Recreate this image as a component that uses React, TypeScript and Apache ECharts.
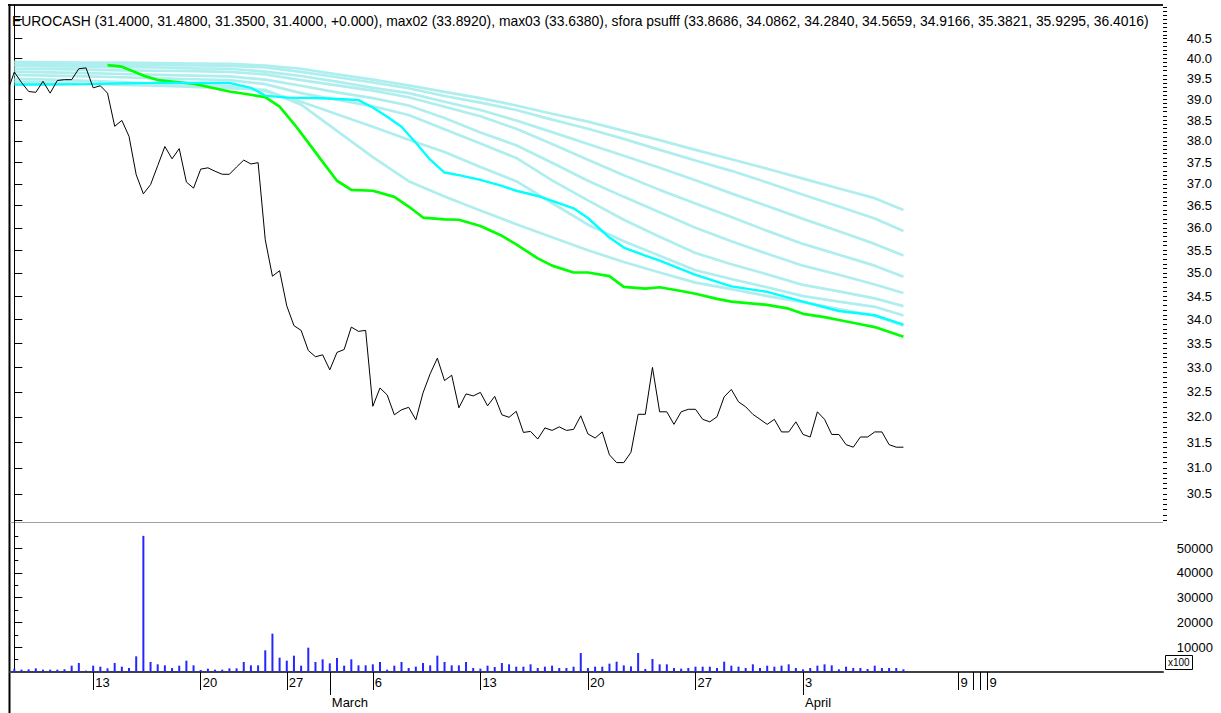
import React, { useEffect, useRef } from "react";
import * as echarts from "echarts";

const titleText =
  "EUROCASH (31.4000, 31.4800, 31.3500, 31.4000, +0.000), max02 (33.8920), max03 (33.6380), sfora psufff (33.8686, 34.0862, 34.2840, 34.5659, 34.9166, 35.3821, 35.9295, 36.4016)";

// closes; first entry is the partly visible point just left of the first bar (index -1)
const priceFirstIndex = -1;
const price = [
  39.16, 39.67, 39.41, 39.19, 39.17, 39.44, 39.15, 39.46, 39.48, 39.48, 39.75,
  39.77, 39.28, 39.33, 39.15, 38.35, 38.49, 38.11, 37.21, 36.77, 36.98,
  37.42, 37.87, 37.58, 37.82, 37.04, 36.9, 37.34, 37.37, 37.29, 37.22,
  37.22, 37.39, 37.55, 37.46, 37.49, 35.73, 34.93, 35.05, 34.29, 33.87,
  33.77, 33.35, 33.22, 33.26, 32.95, 33.31, 33.37, 33.84, 33.75, 33.77,
  32.21, 32.58, 32.44, 32.04, 32.14, 32.19, 31.94, 32.48, 32.87, 33.19,
  32.73, 32.84, 32.18, 32.46, 32.42, 32.49, 32.22, 32.41, 32.04, 31.99,
  32.11, 31.69, 31.71, 31.56, 31.78, 31.73, 31.8, 31.73, 31.75, 32.02,
  31.66, 31.58, 31.7, 31.25, 31.1, 31.1, 31.3, 32.05, 32.05, 33.0,
  32.1, 32.1, 31.85, 32.1, 32.15, 32.15, 31.95, 31.9, 32.0, 32.4,
  32.55, 32.3, 32.2, 32.05, 31.95, 31.85, 31.95, 31.7, 31.7, 31.9,
  31.65, 31.6, 32.1, 31.95, 31.65, 31.65, 31.45, 31.4, 31.6, 31.6,
  31.7, 31.7, 31.45, 31.4, 31.4,
];

// volume (in units of 100), index 0..124
const volume = [
  1350, 940, 1080, 1480, 940, 940, 940, 1080, 2560, 3640, 540, 2560, 2150,
  1480, 3640, 2150, 1620, 6330, 55000, 4040, 3100, 2690, 1620, 2560, 4580,
  2690, 810, 1350, 940, 940, 1480, 1480, 4040, 2690, 2690, 8750, 15490,
  5790, 4580, 6600, 2560, 9830, 4040, 5120, 3500, 5660, 2560, 5120, 2690,
  2690, 3100, 4040, 940, 2560, 4040, 1620, 2150, 3640, 2690, 6600, 4040,
  2690, 2690, 4040, 1620, 1350, 2560, 2020, 3640, 3100, 2150, 2150, 3100,
  1620, 2150, 2560, 1620, 1620, 2150, 7680, 1620, 2150, 2150, 3370, 4180,
  2690, 2290, 7680, 1210, 5250, 3100, 3100, 1620, 1350, 1620, 2150, 2150,
  2150, 1620, 4180, 2560, 2150, 1620, 3100, 1620, 2560, 2150, 2560, 3100,
  1620, 1080, 1620, 2560, 3100, 2690, 1080, 2150, 1620, 1620, 1210, 2560,
  1620, 1620, 1620, 1080,
];

// max03 (green), sampled at these bar indices
const max03Index = [13, 15, 18, 20, 25, 30, 33, 35, 37, 39, 41, 43, 45, 47, 50, 53, 55, 57, 60, 62, 65, 68, 70, 73, 75, 78, 80, 83, 85, 88, 90, 93, 95, 98, 100, 105, 108, 110, 113, 115, 118, 120, 124];
const max03 = [39.84, 39.8, 39.58, 39.47, 39.38, 39.19, 39.11, 39.05, 38.82, 38.41, 37.96, 37.51, 37.07, 36.86, 36.84, 36.7, 36.48, 36.23, 36.19, 36.18, 36.04, 35.82, 35.63, 35.32, 35.16, 35.01, 35.01, 34.93, 34.7, 34.66, 34.69, 34.61, 34.55, 34.44, 34.38, 34.31, 34.23, 34.12, 34.05, 33.99, 33.9, 33.84, 33.638];

// max02 (cyan)
const max02Index = [0, 5, 10, 15, 20, 25, 30, 33, 35, 38, 42, 46, 48, 50, 52, 54, 56, 58, 60, 62, 65, 68, 70, 73, 75, 78, 80, 83, 85, 88, 90, 95, 100, 105, 110, 115, 120, 124];
const max02 = [39.36, 39.36, 39.37, 39.39, 39.4, 39.4, 39.4, 39.28, 39.09, 39.04, 39.03, 39.0, 38.98, 38.8, 38.58, 38.34, 37.96, 37.56, 37.26, 37.2, 37.09, 36.95, 36.84, 36.72, 36.61, 36.44, 36.22, 35.78, 35.56, 35.38, 35.27, 34.96, 34.71, 34.59, 34.38, 34.18, 34.09, 33.892];

// sfora psufff ribbon (8 lines), sampled at these bar indices
const sforaIndex = [0, 5, 10, 15, 20, 25, 30, 35, 40, 45, 50, 55, 60, 65, 70, 75, 80, 85, 90, 95, 100, 105, 110, 115, 120, 124];
const sfora1 = [39.92, 39.91, 39.9, 39.9, 39.89, 39.88, 39.87, 39.83, 39.75, 39.61, 39.48, 39.34, 39.18, 39.03, 38.85, 38.65, 38.46, 38.24, 38.02, 37.79, 37.57, 37.35, 37.12, 36.89, 36.67, 36.4016];
const sfora2 = [39.87, 39.86, 39.85, 39.84, 39.84, 39.83, 39.82, 39.78, 39.67, 39.54, 39.41, 39.27, 39.08, 38.92, 38.74, 38.51, 38.29, 38.05, 37.79, 37.54, 37.3, 37.03, 36.75, 36.48, 36.21, 35.9295];
const sfora3 = [39.82, 39.81, 39.8, 39.79, 39.78, 39.76, 39.75, 39.68, 39.57, 39.43, 39.28, 39.15, 38.94, 38.74, 38.49, 38.21, 37.93, 37.65, 37.37, 37.08, 36.78, 36.49, 36.2, 35.92, 35.64, 35.3821];
const sfora4 = [39.75, 39.74, 39.73, 39.71, 39.7, 39.69, 39.67, 39.61, 39.47, 39.34, 39.21, 39.05, 38.82, 38.59, 38.29, 37.93, 37.56, 37.2, 36.86, 36.55, 36.24, 35.93, 35.64, 35.4, 35.16, 34.9166];
const sfora5 = [39.68, 39.66, 39.64, 39.62, 39.6, 39.58, 39.56, 39.48, 39.33, 39.17, 39.03, 38.85, 38.55, 38.2, 37.9, 37.49, 37.07, 36.7, 36.35, 36.0, 35.7, 35.42, 35.16, 34.96, 34.75, 34.5659];
const sfora6 = [39.6, 39.58, 39.56, 39.54, 39.51, 39.49, 39.47, 39.37, 39.15, 38.99, 38.83, 38.62, 38.28, 37.94, 37.6, 37.08, 36.62, 36.18, 35.8, 35.44, 35.19, 34.97, 34.74, 34.6, 34.45, 34.284];
const sfora7 = [39.5, 39.48, 39.45, 39.42, 39.38, 39.36, 39.33, 39.2, 38.94, 38.64, 38.34, 38.03, 37.74, 37.39, 37.06, 36.56, 36.07, 35.7, 35.38, 35.06, 34.87, 34.69, 34.5, 34.38, 34.27, 34.0862];
const sfora8 = [39.43, 39.41, 39.38, 39.35, 39.33, 39.3, 39.27, 39.23, 38.87, 38.24, 37.62, 37.06, 36.71, 36.39, 36.08, 35.79, 35.5, 35.24, 35.01, 34.79, 34.65, 34.5, 34.37, 34.22, 34.08, 33.8686];
const sforaLines = [sfora1, sfora2, sfora3, sfora4, sfora5, sfora6, sfora7, sfora8];

// axis ticks
const priceLabelValues = [30.5, 31, 31.5, 32, 32.5, 33, 33.5, 34, 34.5, 35, 35.5, 36, 36.5, 37, 37.5, 38, 38.5, 39, 39.5, 40, 40.5];
const priceMajorTicks = [30, ...priceLabelValues, 41];
const priceMinorTicks: number[] = [];
for (let k = 300; k <= 413; k++) priceMinorTicks.push(k / 10);
const volumeLabelValues = [10000, 20000, 30000, 40000, 50000];
const volumeMinorTicks = [5000, 15000, 25000, 35000, 45000, 55000];
const dayTickIndex = [11, 26, 38, 50, 65, 80, 95, 110, 131.67, 133.78, 134.72, 135.71];
const dayTickLabels = ["13", "20", "27", "6", "13", "20", "27", "3", "9", "", "", "9"];
const monthTickIndex = [44, 110];
const monthTickLabels = ["March", "April"];

const X_MIN = -0.6;
const X_MAX = 160.2;
const P_MIN = 29.97;
const P_MAX = 41.36;
const V_MAX = 60600;

const FONT = "'Liberation Sans', Arial, sans-serif";
const L = Math.log;

function buildOption(): echarts.EChartsOption {
  const gridPrice = { left: 10, top: 5, width: 1153, height: 517 };
  const gridVol = { left: 10, top: 522, width: 1153, height: 150 };

  const lineBase = {
    type: "line" as const,
    xAxisIndex: 0,
    yAxisIndex: 0,
    symbol: "none",
    silent: true,
    clip: true,
  };

  const maSeries = (idx: number[], vals: number[], color: string, width: number, z: number) => ({
    ...lineBase,
    data: vals.map((v, k) => [idx[k], L(v)]),
    lineStyle: { color, width },
    z,
  });

  const series: any[] = [];
  sforaLines.forEach((s) => series.push(maSeries(sforaIndex, s, "#afeeee", 2.7, 2)));
  series.push(maSeries(max03Index, max03, "#00ff00", 2.7, 3));
  series.push(maSeries(max02Index, max02, "#00ffff", 2.4, 4));
  series.push({
    ...lineBase,
    data: price.map((v, k) => [k + priceFirstIndex, L(v)]),
    lineStyle: { color: "#000000", width: 1 },
    z: 5,
  });
  series.push({
    type: "bar",
    xAxisIndex: 1,
    yAxisIndex: 2,
    data: volume.map((v, i) => [i, v]),
    barWidth: 2,
    itemStyle: { color: "#2626ff" },
    silent: true,
  });

  const labelOf = (pos: number[], labels: string[]) => (v: number) => {
    let best = 0;
    for (let k = 0; k < pos.length; k++) if (Math.abs(pos[k] - v) < Math.abs(pos[best] - v)) best = k;
    return labels[best];
  };

  return {
    animation: false,
    backgroundColor: "#ffffff",
    grid: [gridPrice, gridVol],
    xAxis: [
      { gridIndex: 0, type: "value", min: X_MIN, max: X_MAX, show: false },
      {
        gridIndex: 1,
        type: "value",
        min: X_MIN,
        max: X_MAX,
        position: "bottom",
        axisLine: { show: true, lineStyle: { color: "#a0a0a0", width: 1 } },
        axisTick: { show: true, customValues: dayTickIndex, length: 18, lineStyle: { color: "#000", width: 1 } },
        axisLabel: {
          show: true,
          customValues: dayTickIndex,
          formatter: labelOf(dayTickIndex, dayTickLabels) as any,
          align: "left",
          margin: 4,
          padding: [0, 0, 0, 2],
          color: "#000",
          fontSize: 13,
          fontFamily: FONT,
        },
        splitLine: { show: false },
      },
      {
        gridIndex: 1,
        type: "value",
        min: X_MIN,
        max: X_MAX,
        position: "bottom",
        offset: 18,
        axisLine: { show: true, lineStyle: { color: "#404040", width: 2 } },
        axisTick: { show: true, customValues: monthTickIndex, length: 23, lineStyle: { color: "#000", width: 1 } },
        axisLabel: {
          show: true,
          customValues: monthTickIndex,
          formatter: labelOf(monthTickIndex, monthTickLabels) as any,
          align: "left",
          margin: 6,
          padding: [0, 0, 0, 2],
          color: "#000",
          fontSize: 13,
          fontFamily: FONT,
        },
        splitLine: { show: false },
      },
    ],
    yAxis: [
      {
        gridIndex: 0,
        type: "value",
        position: "right",
        min: L(P_MIN),
        max: L(P_MAX),
        axisLine: { show: true, lineStyle: { color: "#000", width: 1 } },
        axisTick: { show: true, customValues: priceMajorTicks.map(L), length: 8, lineStyle: { color: "#000" } },
        axisLabel: {
          show: true,
          customValues: priceLabelValues.map(L),
          formatter: ((v: number) => Math.exp(v).toFixed(1)) as any,
          align: "right",
          margin: 49,
          color: "#000",
          fontSize: 13,
          fontFamily: FONT,
        },
        splitLine: { show: false },
      },
      {
        gridIndex: 0,
        type: "value",
        position: "right",
        min: L(P_MIN),
        max: L(P_MAX),
        axisLine: { show: false },
        axisTick: { show: true, customValues: priceMinorTicks.map(L), length: 4, lineStyle: { color: "#000" } },
        axisLabel: { show: false },
        splitLine: { show: false },
      },
      {
        gridIndex: 1,
        type: "value",
        position: "right",
        min: 0,
        max: V_MAX,
        axisLine: { show: true, lineStyle: { color: "#000", width: 1 } },
        axisTick: { show: true, customValues: volumeLabelValues, length: 8, lineStyle: { color: "#000" } },
        axisLabel: {
          show: true,
          customValues: volumeLabelValues,
          formatter: ((v: number) => String(Math.round(v))) as any,
          align: "right",
          margin: 50,
          color: "#000",
          fontSize: 13,
          fontFamily: FONT,
        },
        splitLine: { show: false },
      },
      {
        gridIndex: 1,
        type: "value",
        position: "right",
        min: 0,
        max: V_MAX,
        axisLine: { show: false },
        axisTick: { show: true, customValues: volumeMinorTicks, length: 4, lineStyle: { color: "#000" } },
        axisLabel: { show: false },
        splitLine: { show: false },
      },
    ],
    graphic: [
      { type: "line", shape: { x1: 8, y1: 5, x2: 1163, y2: 5 }, style: { stroke: "#202020", lineWidth: 2 }, silent: true },
      { type: "line", shape: { x1: 9.5, y1: 4, x2: 9.5, y2: 713 }, style: { stroke: "#000", lineWidth: 2 }, silent: true },
      { type: "line", shape: { x1: 10, y1: 522.5, x2: 1163, y2: 522.5 }, style: { stroke: "#a0a0a0", lineWidth: 1 }, silent: true },
      {
        type: "text",
        left: 12,
        top: 14,
        style: { text: titleText, fill: "#000", fontSize: 13.9, fontFamily: FONT },
        silent: true,
      },
      {
        type: "rect",
        shape: { x: 1165.5, y: 655.5, width: 27, height: 14 },
        style: { fill: "#fff", stroke: "#000", lineWidth: 1 },
        silent: true,
      },
      {
        type: "text",
        x: 1168,
        y: 657,
        style: { text: "x100", fill: "#000", fontSize: 10, fontFamily: FONT },
        silent: true,
      },
    ],
    series,
  };
}

export default function App() {
  const ref = useRef<HTMLDivElement>(null);
  useEffect(() => {
    if (!ref.current) return;
    const chart = echarts.init(ref.current, null, { renderer: "svg" });
    chart.setOption(buildOption());
    return () => chart.dispose();
  }, []);
  return (
    <div
      ref={ref}
      style={{ position: "fixed", left: 0, top: 0, width: 1221, height: 713, background: "#fff" }}
    />
  );
}
